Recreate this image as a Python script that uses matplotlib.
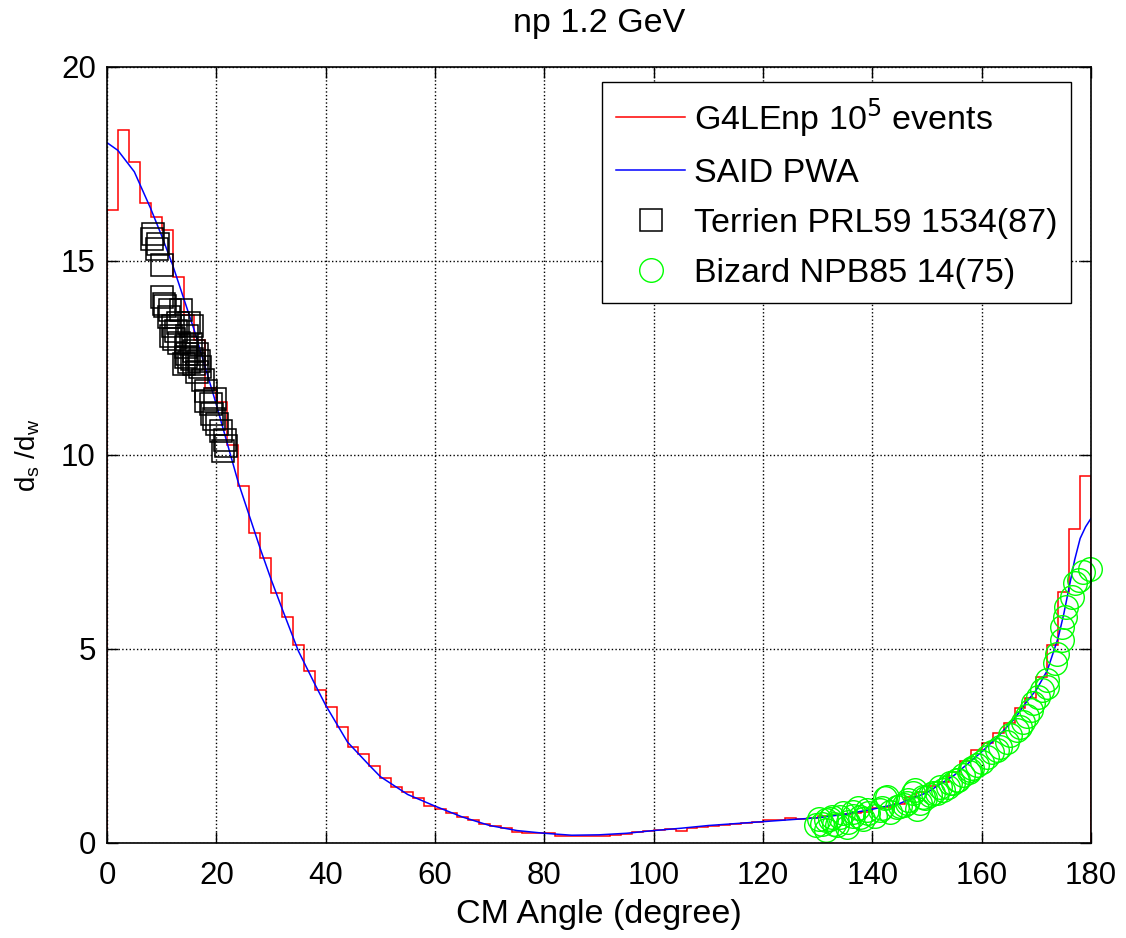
import numpy as np
import matplotlib.pyplot as plt

plt.rcParams['font.family'] = ['Liberation Sans', 'DejaVu Sans']

# G4LEnp histogram, 2 degree bins (0..180)
hist_edges = np.arange(0, 182, 2)
hist_vals = [16.31, 18.38, 17.56, 16.49, 16.14, 15.80, 14.58, 13.60, 12.96, 11.72,
             11.37, 10.26, 9.21, 7.98, 7.35, 6.45, 5.82, 5.10, 4.42, 3.93,
             3.50, 2.98, 2.48, 2.29, 1.99, 1.68, 1.45, 1.32, 1.17, 0.95,
             0.87, 0.77, 0.68, 0.59, 0.49, 0.44, 0.38, 0.28, 0.27, 0.25,
             0.25, 0.19, 0.19, 0.19, 0.19, 0.19, 0.20, 0.23, 0.29, 0.32,
             0.34, 0.35, 0.32, 0.38, 0.40, 0.44, 0.46, 0.49, 0.51, 0.54,
             0.59, 0.59, 0.65, 0.62, 0.65, 0.70, 0.73, 0.74, 0.76, 0.80,
             0.89, 0.94, 1.00, 1.19, 1.32, 1.47, 1.58, 1.84, 2.10, 2.40,
             2.58, 2.83, 3.10, 3.47, 3.73, 4.27, 5.10, 6.48, 8.08, 9.46]

# SAID PWA curve
said_ang = [0, 2, 5, 8, 10, 12, 14, 16, 18, 20, 22, 24, 26, 28, 30, 32, 35, 38, 40,
            44, 48, 50, 55, 60, 65, 70, 75, 80, 85, 90, 95, 100, 105, 110, 115, 120,
            125, 130, 135, 140, 145, 150, 155, 160, 163, 166, 168, 170, 172, 174,
            175, 176, 177, 178, 179, 180]
said_val = [18.05, 17.85, 17.3, 16.35, 15.65, 14.9, 14.05, 13.2, 12.25, 11.3, 10.3,
            9.3, 8.45, 7.6, 6.8, 6.05, 4.95, 4.1, 3.55, 2.6, 2.0, 1.71, 1.25, 0.95,
            0.67, 0.45, 0.32, 0.25, 0.2, 0.21, 0.25, 0.32, 0.38, 0.45, 0.5, 0.55,
            0.6, 0.65, 0.74, 0.87, 1.02, 1.3, 1.75, 2.35, 2.75, 3.2, 3.6, 3.95,
            4.45, 5.3, 5.9, 6.6, 7.3, 7.85, 8.15, 8.37]

# Terrien PRL59 1534(87)
terr_ang = [8.5, 8.3, 9.4, 9.2, 10.1, 10.0, 10.4, 10.7, 11.6, 13.5, 11.3, 12.0, 12.6,
            13.0, 15.0, 15.6, 11.8, 12.3, 13.2, 14.7, 15.3, 14.4, 14.7, 15.9, 16.5,
            14.4, 15.6, 15.0, 15.9, 14.1, 16.8, 17.1, 16.5, 17.6, 18.1, 18.2, 19.1,
            19.7, 19.3, 19.6, 20.2, 20.8, 21.5, 21.7, 21.3]
terr_val = [15.69, 15.56, 15.44, 15.30, 14.90, 14.08, 13.89, 13.85, 13.74, 13.74,
            13.55, 13.32, 13.20, 13.40, 13.40, 13.32, 13.07, 12.98, 12.89, 13.07,
            12.86, 12.78, 12.60, 12.69, 12.60, 12.52, 12.47, 12.39, 12.35, 12.35,
            12.43, 12.26, 12.13, 11.93, 11.66, 11.40, 11.31, 11.44, 11.06, 10.93,
            10.80, 10.63, 10.39, 10.24, 10.11]

# Bizard NPB85 14(75)
biz_ang = [129.6, 130.2, 130.7, 131.6, 131.6, 132.2, 132.6, 132.9, 133.5, 134.1,
           134.7, 135.3, 135.6, 136.5, 136.5, 137.4, 137.7, 138.3, 139.0, 139.2,
           140.5, 141.4, 141.7, 142.3, 142.6, 143.2, 144.5, 145.1, 145.7, 146.3,
           146.6, 147.5, 147.8, 148.1, 148.7, 149.3, 149.6, 150.5, 151.1, 151.8,
           152.4, 153.0, 153.9, 154.2, 154.8, 155.4, 155.7, 156.6, 157.6, 157.8,
           158.2, 159.1, 160.0, 160.9, 161.8, 162.7, 163.3, 164.6, 165.2, 166.4,
           167.0, 167.6, 168.2, 169.1, 169.4, 170.3, 171.0, 171.9, 171.9, 173.4,
           173.7, 174.6, 174.6, 175.2, 175.5, 176.5, 177.1, 177.7, 178.6, 179.8]
biz_val = [0.46, 0.63, 0.50, 0.33, 0.59, 0.62, 0.68, 0.48, 0.46, 0.68,
           0.76, 0.42, 0.55, 0.70, 0.81, 0.89, 0.66, 0.63, 0.85, 0.78,
           0.70, 0.85, 0.90, 1.15, 1.19, 0.81, 0.94, 0.96, 0.98, 1.02,
           1.11, 1.28, 1.37, 0.88, 1.02, 1.19, 1.15, 1.24, 1.28, 1.28,
           1.45, 1.37, 1.45, 1.54, 1.54, 1.62, 1.62, 1.75, 1.84, 1.88,
           1.92, 2.01, 2.09, 2.22, 2.35, 2.40, 2.48, 2.61, 2.78, 2.91,
           3.00, 3.13, 3.26, 3.43, 3.60, 3.77, 3.94, 4.03, 4.20, 4.63,
           4.88, 5.23, 5.57, 5.83, 6.09, 6.35, 6.69, 6.78, 6.99, 7.07]

fig = plt.figure(figsize=(11.26, 9.38), dpi=100)
ax = fig.add_axes([0.095, 0.1013, 0.874, 0.8273])

ax.stairs(hist_vals, hist_edges, color='red', lw=1.1, label='G4LEnp 10$^5$ events')
ax.plot(said_ang, said_val, color='blue', lw=1.1, label='SAID PWA')
ax.plot(terr_ang, terr_val, 's', ms=15.5, mfc='none', mec='black', mew=1.1,
        label='Terrien PRL59 1534(87)', clip_on=False)
ax.plot(biz_ang, biz_val, 'o', ms=17, mfc='none', mec='#00ff00', mew=1.0,
        label='Bizard NPB85 14(75)', clip_on=False)

ax.set_xlim(0, 180)
ax.set_ylim(0, 20)
ax.set_xticks(range(0, 181, 20))
ax.set_yticks(range(0, 21, 5))
ax.grid(True, linestyle=':', color='black', lw=1.0)
ax.tick_params(direction='in', length=8, width=1, top=True, right=True,
               labelsize=22.5)
ax.tick_params(axis='x', pad=13)
ax.tick_params(axis='y', pad=8)
for s in ax.spines.values():
    s.set_linewidth(1.2)

ax.set_title('np 1.2 GeV', fontsize=24.5, pad=25)
ax.set_xlabel('CM Angle (degree)', fontsize=24.5, labelpad=6)
ax.set_ylabel('d$_{\\mathregular{s}}$ /d$_{\\mathregular{w}}$', fontsize=20, labelpad=14)

leg = ax.legend(loc='upper right', bbox_to_anchor=(0.9797, 0.980), borderaxespad=0,
                fontsize=24.5, fancybox=False, framealpha=1, edgecolor='black',
                handlelength=2.05, labelspacing=0.56, handletextpad=0.25,
                borderpad=0.4)
leg.get_frame().set_linewidth(1.0)

fig.savefig('out.png', dpi=100)
